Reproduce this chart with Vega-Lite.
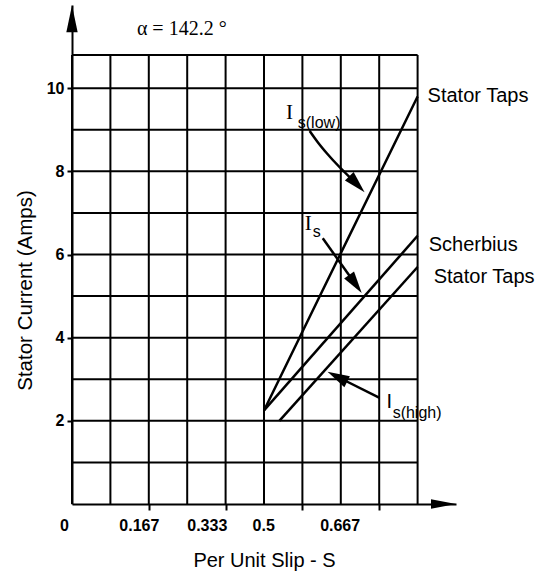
{
  "$schema": "https://vega.github.io/schema/vega-lite/v6.json",
  "width": 384,
  "height": 499,
  "autosize": {"type": "none"},
  "padding": {"left": 72, "top": 5, "right": 100, "bottom": 67},
  "background": "white",
  "config": {
    "view": {"stroke": null},
    "axis": {"domainColor": "black", "tickColor": "black", "labelColor": "black", "titleColor": "black", "grid": false}
  },
  "datasets": {
    "grid": [
      {"x": 0.0, "x2": 0.0, "y": 0, "y2": 10.8},
      {"x": 0.1, "x2": 0.1, "y": 0, "y2": 10.8},
      {"x": 0.2, "x2": 0.2, "y": 0, "y2": 10.8},
      {"x": 0.3, "x2": 0.3, "y": 0, "y2": 10.8},
      {"x": 0.4, "x2": 0.4, "y": 0, "y2": 10.8},
      {"x": 0.5, "x2": 0.5, "y": 0, "y2": 10.8},
      {"x": 0.6, "x2": 0.6, "y": 0, "y2": 10.8},
      {"x": 0.7, "x2": 0.7, "y": 0, "y2": 10.8},
      {"x": 0.8, "x2": 0.8, "y": 0, "y2": 10.8},
      {"x": 0.9, "x2": 0.9, "y": 0, "y2": 10.8},
      {"x": 0, "x2": 0.9, "y": 1, "y2": 1},
      {"x": 0, "x2": 0.9, "y": 2, "y2": 2},
      {"x": 0, "x2": 0.9, "y": 3, "y2": 3},
      {"x": 0, "x2": 0.9, "y": 4, "y2": 4},
      {"x": 0, "x2": 0.9, "y": 5, "y2": 5},
      {"x": 0, "x2": 0.9, "y": 6, "y2": 6},
      {"x": 0, "x2": 0.9, "y": 7, "y2": 7},
      {"x": 0, "x2": 0.9, "y": 8, "y2": 8},
      {"x": 0, "x2": 0.9, "y": 9, "y2": 9},
      {"x": 0, "x2": 0.9, "y": 10, "y2": 10},
      {"x": 0, "x2": 0.9, "y": 10.8, "y2": 10.8}
    ],
    "series": [
      {"curve": "Stator Taps I s(low)", "x": 0.5, "y": 2.25},
      {"curve": "Stator Taps I s(low)", "x": 0.64, "y": 4.9},
      {"curve": "Stator Taps I s(low)", "x": 0.9, "y": 9.8},
      {"curve": "Scherbius I s", "x": 0.5, "y": 2.25},
      {"curve": "Scherbius I s", "x": 0.9, "y": 6.45},
      {"curve": "Stator Taps I s(high)", "x": 0.54, "y": 2.0},
      {"curve": "Stator Taps I s(high)", "x": 0.9, "y": 5.7}
    ],
    "arrows": [
      {"arrow": "low", "o": 1, "x": 0.619, "y": 8.97},
      {"arrow": "low", "o": 2, "x": 0.64, "y": 8.7},
      {"arrow": "low", "o": 3, "x": 0.663, "y": 8.44},
      {"arrow": "low", "o": 4, "x": 0.742, "y": 7.69},
      {"arrow": "mid", "o": 1, "x": 0.653, "y": 6.39},
      {"arrow": "mid", "o": 2, "x": 0.738, "y": 5.29},
      {"arrow": "high", "o": 1, "x": 0.801, "y": 2.55},
      {"arrow": "high", "o": 2, "x": 0.691, "y": 3.06}
    ],
    "heads": [
      {"arrow": "low", "x": 0.742, "y": 7.69, "heading": 136},
      {"arrow": "mid", "x": 0.738, "y": 5.29, "heading": 145},
      {"arrow": "high", "x": 0.691, "y": 3.06, "heading": 297}
    ],
    "serifText": [
      {"x": 0.557, "y": 9.25, "t": "I"},
      {"x": 0.606, "y": 6.59, "t": "I"}
    ],
    "mainText": [
      {"x": 0.926, "y": 9.66, "t": "Stator Taps"},
      {"x": 0.929, "y": 6.09, "t": "Scherbius"},
      {"x": 0.942, "y": 5.31, "t": "Stator Taps"},
      {"x": 0.819, "y": 2.31, "t": "I"}
    ],
    "subText": [
      {"x": 0.588, "y": 9.04, "t": "s(low)"},
      {"x": 0.627, "y": 6.42, "t": "s"},
      {"x": 0.835, "y": 2.07, "t": "s(high)"}
    ],
    "titleText": [
      {"x": 0.169, "y": 11.27, "t": "α = 142.2 °"}
    ]
  },
  "resolve": {"axis": {"x": "independent"}},
  "layer": [
    {
      "layer": [
        {
          "data": {"name": "grid"},
          "mark": {"type": "rule", "color": "black", "strokeWidth": 2},
          "encoding": {
            "x": {"field": "x", "type": "quantitative", "scale": {"domain": [0, 1], "nice": false, "zero": false},
              "axis": {"orient": "bottom", "values": [0.2, 0.4, 0.6, 0.8], "labels": false, "ticks": true, "tickSize": 6, "tickWidth": 2, "domain": true, "domainWidth": 2, "title": null, "grid": false}},
            "x2": {"field": "x2"},
            "y": {"field": "y", "type": "quantitative", "scale": {"domain": [0, 12], "nice": false, "zero": false},
              "axis": {"values": [2, 4, 6, 8, 10], "tickSize": 5, "tickWidth": 2, "domainWidth": 2, "labelFont": "Liberation Sans", "labelFontWeight": "bold", "labelFontSize": 16, "labelPadding": 3,
                "title": "Stator Current (Amps)", "titleFont": "Liberation Sans", "titleFontSize": 20.5, "titleFontWeight": "normal", "titleAngle": -90, "titleX": -47, "titleY": 285, "titleAlign": "center", "titleBaseline": "middle", "grid": false}},
            "y2": {"field": "y2"}
          }
        },
        {
          "data": {"name": "series"},
          "mark": {"type": "line", "color": "black", "strokeWidth": 2.5},
          "encoding": {
            "x": {"field": "x", "type": "quantitative"},
            "y": {"field": "y", "type": "quantitative"},
            "detail": {"field": "curve"}
          }
        },
        {
          "data": {"name": "arrows"},
          "mark": {"type": "line", "color": "black", "strokeWidth": 2.5, "interpolate": "monotone"},
          "encoding": {
            "x": {"field": "x", "type": "quantitative"},
            "y": {"field": "y", "type": "quantitative"},
            "detail": {"field": "arrow"},
            "order": {"field": "o"}
          }
        },
        {
          "data": {"name": "heads"},
          "mark": {"type": "point", "shape": "M0,-1L0.55,1L-0.55,1Z", "filled": true, "color": "black", "opacity": 1, "size": 484},
          "encoding": {
            "x": {"field": "x", "type": "quantitative"},
            "y": {"field": "y", "type": "quantitative"},
            "angle": {"field": "heading", "type": "quantitative", "scale": null}
          }
        },
        {
          "data": {"values": [{"x": 0, "y": 11.67}]},
          "mark": {"type": "point", "shape": "M0,-1L0.42,1L-0.42,1Z", "filled": true, "color": "black", "opacity": 1, "size": 729},
          "encoding": {
            "x": {"field": "x", "type": "quantitative"},
            "y": {"field": "y", "type": "quantitative"}
          }
        },
        {
          "data": {"values": [{"x": 0.9675, "y": 0}]},
          "mark": {"type": "point", "shape": "M1,0L-1,0.38L-1,-0.38Z", "filled": true, "color": "black", "opacity": 1, "size": 625},
          "encoding": {
            "x": {"field": "x", "type": "quantitative"},
            "y": {"field": "y", "type": "quantitative"}
          }
        },
        {
          "data": {"name": "serifText"},
          "mark": {"type": "text", "font": "Liberation Serif", "fontSize": 21, "align": "left", "baseline": "alphabetic", "color": "black"},
          "encoding": {
            "x": {"field": "x", "type": "quantitative"},
            "y": {"field": "y", "type": "quantitative"},
            "text": {"field": "t"}
          }
        },
        {
          "data": {"name": "mainText"},
          "mark": {"type": "text", "font": "Liberation Sans", "fontSize": 20, "align": "left", "baseline": "alphabetic", "color": "black"},
          "encoding": {
            "x": {"field": "x", "type": "quantitative"},
            "y": {"field": "y", "type": "quantitative"},
            "text": {"field": "t"}
          }
        },
        {
          "data": {"name": "subText"},
          "mark": {"type": "text", "font": "Liberation Sans", "fontSize": 16, "align": "left", "baseline": "alphabetic", "color": "black"},
          "encoding": {
            "x": {"field": "x", "type": "quantitative"},
            "y": {"field": "y", "type": "quantitative"},
            "text": {"field": "t"}
          }
        }
      ]
    },
    {
      "data": {"name": "titleText"},
      "mark": {"type": "text", "font": "Liberation Serif", "fontSize": 20, "align": "left", "baseline": "alphabetic", "color": "black"},
      "encoding": {
        "x": {"field": "x", "type": "quantitative",
          "axis": {"orient": "bottom", "values": [0, 0.174, 0.351, 0.498, 0.697],
            "labelExpr": "datum.value < 0.05 ? '0' : datum.value < 0.25 ? '0.167' : datum.value < 0.4 ? '0.333' : datum.value < 0.6 ? '0.5' : '0.667'",
            "labelOffset": {"condition": {"test": "datum.value == 0", "value": -8}, "value": 0},
            "ticks": false, "domain": false, "grid": false, "labelFlush": false, "labelOverlap": false,
            "labelFont": "Liberation Sans", "labelFontWeight": "bold", "labelFontSize": 16, "labelPadding": 13,
            "title": "Per Unit Slip - S", "titleFont": "Liberation Sans", "titleFontSize": 20, "titleFontWeight": "normal", "titleBaseline": "alphabetic", "titleY": 62}},
        "y": {"field": "y", "type": "quantitative"},
        "text": {"field": "t"}
      }
    }
  ]
}
